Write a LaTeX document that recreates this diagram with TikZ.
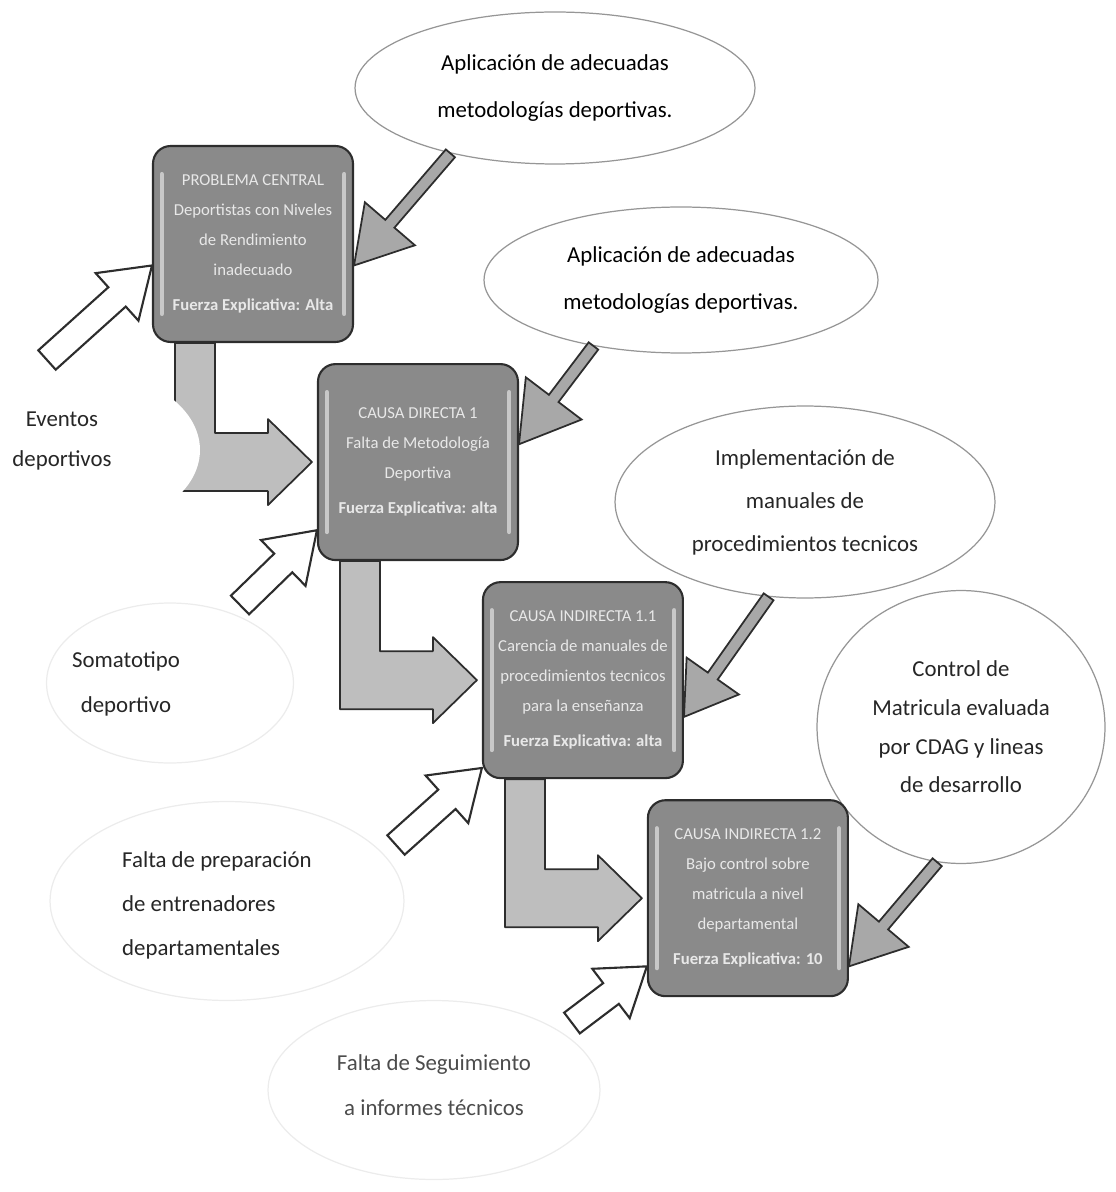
\documentclass[tikz,border=0pt]{standalone}
\usepackage{fontspec}
\setmainfont{Carlito}
\usepackage{tikz}
\usetikzlibrary{shapes.geometric,positioning,calc,backgrounds}
\definecolor{causafill}{RGB}{138,138,138}
\definecolor{causaedge}{RGB}{45,45,45}
\definecolor{causahi}{RGB}{200,200,200}
\definecolor{causatext}{RGB}{232,232,232}
\definecolor{bentfill}{RGB}{190,190,190}
\definecolor{slimfill}{RGB}{168,168,168}
\definecolor{ovaledge}{RGB}{150,150,150}
\definecolor{faintedge}{RGB}{236,236,236}

% straight block arrow: style, tail, tip, shaft half, head half, head length
\newcommand{\blockarrow}[6]{%
  \coordinate (ba-h) at ($(#3)!#6!(#2)$);
  \draw[#1] ($(#2)!#4!90:(#3)$) -- ($(ba-h)!#4!90:(#3)$) -- ($(ba-h)!#5!90:(#3)$)
    -- (#3) -- ($(ba-h)!#5!-90:(#3)$) -- ($(ba-h)!#4!-90:(#3)$)
    -- ($(#2)!#4!-90:(#3)$) -- cycle;%
}
% bent block arrow from the bottom of one box into the left of the next
\newcommand{\bentarrow}[2]{%
  \path (#1.south west) ++(23,0) coordinate (bt-l) ++(40,0) coordinate (bt-r);
  \path (#2.west) ++(-5,0) coordinate (bt-tip) ++(-44,-29) coordinate (bt-a) ++(0,-14) coordinate (bt-b);
  \path (bt-tip) ++(-44,29) coordinate (bt-c) ++(0,14) coordinate (bt-d);
  \draw[bent] (bt-l) -- (bt-r) -- (bt-r |- bt-a) -- (bt-a) -- (bt-b) -- (bt-tip)
    -- (bt-d) -- (bt-c) -- (bt-l |- bt-c) -- cycle;%
}

\begin{document}
\begin{tikzpicture}[
  x=0.02cm, y=-0.02cm,
  causa/.style={rectangle, rounded corners=10pt, draw=causaedge, line width=1.2pt,
                fill=causafill, minimum width=4cm, minimum height=3.92cm,
                align=center, text=causatext, inner sep=2pt,
                font=\fontsize{9.5}{17}\selectfont,
                path picture={
                  \draw[causahi, line width=2.5pt, line cap=round]
                    ([xshift=5pt,yshift=-16pt]path picture bounding box.north west)
                    -- ([xshift=5pt,yshift=16pt]path picture bounding box.south west);
                  \draw[causahi, line width=2.5pt, line cap=round]
                    ([xshift=-5pt,yshift=-16pt]path picture bounding box.north east)
                    -- ([xshift=-5pt,yshift=16pt]path picture bounding box.south east);}},
  oval/.style={ellipse, draw=ovaledge, line width=0.7pt, fill=white, inner sep=0pt,
               align=center, font=\fontsize{13}{27}\selectfont},
  faint/.style={ellipse, draw=faintedge, line width=0.7pt, fill=white, inner sep=0pt},
  lbl/.style={align=center, font=\fontsize{13}{26}\selectfont, text=black!85},
  bent/.style={draw=causaedge, line width=1pt, fill=bentfill, line join=round},
  slim/.style={draw=causaedge, line width=1pt, fill=slimfill},
  hollow/.style={draw=causaedge, line width=1.2pt, fill=white}
]
\useasboundingbox (0,0) rectangle (1115,1192);

% --- Faint ovals on the left ---
\node[faint, draw=none, minimum width=4.8cm, minimum height=3.2cm] (ev) at (80,450) {};
\node[lbl, font=\fontsize{13}{23}\selectfont] (evlbl) at (62,441) {Eventos\\deportivos};
\node[faint, minimum width=4.94cm, minimum height=3.2cm] (soma) at (170,683) {};
\node[lbl] (somalbl) at (126,684) {Somatotipo\\deportivo};
\node[faint, minimum width=7.08cm, minimum height=3.98cm] (prep) at (227,901) {};
\node[lbl, anchor=west, align=left, font=\fontsize{13}{25}\selectfont] (preplbl) at (116,905)
  {Falta de preparación\\de entrenadores\\departamentales};
\node[faint, minimum width=6.64cm, minimum height=3.58cm] (segui) at (434,1090) {};
\node[lbl, text=black!70] (seguilbl) at (434,1085) {Falta de Seguimiento\\a informes técnicos};

% --- Ovals on the right ---
\node[oval, minimum width=8cm, minimum height=3.04cm] (e1) at (555,88)
  {Aplicación de adecuadas\\metodologías deportivas.};
\node[oval, minimum width=7.88cm, minimum height=2.92cm] (e2) at (681,280)
  {Aplicación de adecuadas\\metodologías deportivas.};
\node[oval, minimum width=7.6cm, minimum height=3.84cm, font=\fontsize{13}{24.5}\selectfont,
      text=black!85] (e3) at (805,502)
  {Implementación de\\manuales de\\procedimientos tecnicos};
\node[oval, minimum width=5.76cm, minimum height=5.46cm, font=\fontsize{13}{22}\selectfont,
      text=black!85] (e4) at (961,727)
  {Control de\\Matricula evaluada\\por CDAG y lineas\\de desarrollo};

% --- Boxes, stepping down to the right ---
\node[causa] (pc) at (253,244) {%
PROBLEMA CENTRAL\\Deportistas con Niveles\\de Rendimiento\\inadecuado\\[3pt]
\textbf{Fuerza Explicativa: Alta}};
\node[causa, below=4mm of pc, xshift=3.3cm] (d1) {%
CAUSA DIRECTA 1\\Falta de Metodología\\Deportiva\\[3pt]
\textbf{Fuerza Explicativa: alta}};
\node[causa, below=4mm of d1, xshift=3.3cm] (c1) {%
CAUSA INDIRECTA 1.1\\Carencia de manuales de\\procedimientos tecnicos\\para la enseñanza\\[3pt]
\textbf{Fuerza Explicativa: alta}};
\node[causa, below=4mm of c1, xshift=3.3cm] (c2) {%
CAUSA INDIRECTA 1.2\\Bajo control sobre\\matricula a nivel\\departamental\\[3pt]
\textbf{Fuerza Explicativa: 10}};

% --- Bent arrows between boxes ---
\begin{scope}[on background layer]
\bentarrow{pc}{d1}
\bentarrow{d1}{c1}
\bentarrow{c1}{c2}
\end{scope}

% --- Arrows from the ovals ---
\blockarrow{slim}{e1.212}{pc.348}{0.12cm}{0.66cm}{1.1cm}
\blockarrow{slim}{e2.217}{d1.10}{0.12cm}{0.7cm}{1.15cm}
\blockarrow{slim}{e3.249}{c1.340}{0.12cm}{0.64cm}{1.0cm}
\blockarrow{slim}{e4.260}{c2.326}{0.12cm}{0.66cm}{1.07cm}

% --- Open arrows from the left ---
\coordinate (w1) at (47,360);
\coordinate (w2) at (240,605);
\coordinate (w3) at (396,845);
\coordinate (w4) at (572,1023);
\blockarrow{hollow}{w1}{pc.192}{0.26cm}{0.64cm}{0.94cm}
\blockarrow{hollow}{w2}{d1.214}{0.26cm}{0.64cm}{0.94cm}
\blockarrow{hollow}{w3}{c1.221}{0.26cm}{0.64cm}{0.94cm}
\blockarrow{hollow}{w4}{c2.214}{0.26cm}{0.62cm}{0.9cm}

\end{tikzpicture}
\end{document}
